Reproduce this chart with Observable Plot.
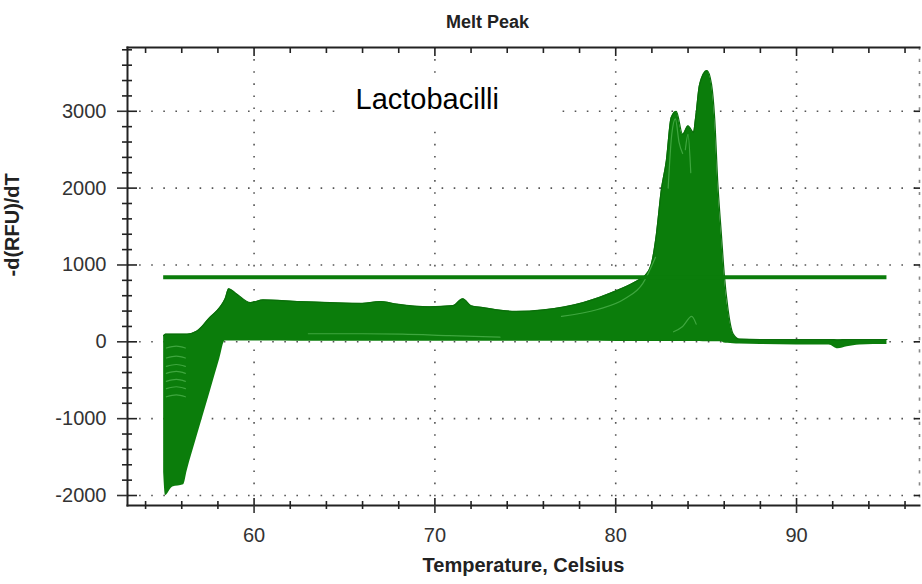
<!DOCTYPE html>
<html><head><meta charset="utf-8">
<script src="https://cdn.jsdelivr.net/npm/d3@7"></script>
<script src="https://cdn.jsdelivr.net/npm/@observablehq/plot@0.6"></script>
<style>body{margin:0;background:#fff} svg{display:block}</style>
</head><body><div id="chart"></div>
<script>
// ---- text ----
const title = "Melt Peak";
const xLabel = "Temperature, Celsius";
const yLabel = "-d(RFU)/dT";
const note = "Lactobacilli";

// ---- ticks ----
const xMajor = [60, 70, 80, 90];
const xMinor = [54, 56, 58, 62, 64, 66, 68, 72, 74, 76, 78, 82, 84, 86, 88, 92, 94, 96];
const yMajor = [-2000, -1000, 0, 1000, 2000, 3000];
const yMinor = [-1800, -1600, -1400, -1200, -800, -600, -400, -200, 200, 400, 600, 800,
                1200, 1400, 1600, 1800, 2200, 2400, 2600, 2800, 3200, 3400, 3600, 3800];

// ---- envelope of the overlapping melt-peak curves ----
const envT = [55.0, 55.1, 55.5, 56.1, 56.3, 56.85, 57.55, 58.1, 58.4, 58.6, 59.0, 59.8, 60.5, 62.4,
              64.2, 66.0, 67.0, 67.9, 69.7, 71.0, 71.55, 72.0, 72.65, 74.5, 76.0, 78.2, 80.1, 81.2,
              81.6, 81.97, 82.25, 82.52, 82.8, 83.07, 83.35, 83.7, 84.0, 84.3, 84.42, 84.64, 85.05,
              85.3, 85.47, 85.65, 85.85, 86.0, 86.2, 86.5, 86.85, 88.0, 90.0, 91.8, 92.3, 92.8, 93.5, 95.0];
const envUpper = [80, 100, 100, 100, 100, 140, 315, 445, 560, 690, 630, 510, 545, 525,
                  510, 500, 525, 490, 455, 470, 560, 470, 445, 395, 415, 510, 670, 795,
                  855, 1010, 1400, 1970, 2355, 2920, 3000, 2700, 2810, 2725, 2920, 3350, 3530,
                  3350, 2920, 2050, 1380, 890, 445, 100, 35, 30, 30, 30, 25, 30, 30, 30];
const envLower = [-1700, -2000, -1890, -1860, -1680, -1230, -670, -225, 10, 10, 10, 10, 10, 8,
                  8, 8, 8, 8, 8, 8, 8, 8, 8, 8, 8, 6, 5, 5,
                  5, 5, 5, 5, 5, 5, 5, 5, 5, 5, 5, 5, 0,
                  0, 0, 0, 0, -15, -20, -25, -30, -35, -40, -40, -90, -65, -40, -35];

// ---- light traces visible inside the mass of curves ----
const leftStreakT = [55.15, 55.7, 56.2];
const leftStreakV = [-80, -210, -320, -410, -515, -610, -715];
const midStreakT = [63.0, 66.0, 68.2, 70.8, 73.6];
const midStreakV = [105, 105, 100, 80, 60];
const flankStreakT = [77.0, 79.0, 80.5, 81.5, 82.2];
const flankStreakV = [330, 420, 560, 760, 1100];
const peak1StreakT = [82.9, 83.1, 83.3, 83.5, 83.7];
const peak1StreakV = [2000, 2700, 2900, 2600, 2450];
const peak2StreakT = [83.85, 84.0, 84.15];
const peak2StreakV = [2500, 2700, 2200];
const baseStreakT = [83.2, 83.7, 84.2, 84.45];
const baseStreakV = [130, 200, 330, 230];

// ---- threshold line ----
const threshold = 840;
const thresholdRange = [55, 95];

// build tables
const env = envT.map((t, i) => ({t, lo: envLower[i], hi: envUpper[i]}));
const pts = (T, V, id) => T.map((t, i) => ({t, v: V[i], id}));
const streaks = [
  ...leftStreakV.map((v, k) => leftStreakT.map((t, j) => ({t, v: v + (j === 1 ? 25 : 0), id: "L" + k}))).flat(),
  ...pts(midStreakT, midStreakV, "M"),
  ...pts(flankStreakT, flankStreakV, "F"),
  ...pts(peak1StreakT, peak1StreakV, "P1"),
  ...pts(peak2StreakT, peak2StreakV, "P2"),
  ...pts(baseStreakT, baseStreakV, "B")
];

const green = "#0b7d0b";
const ink = "#222";
const fmt = d => String(d);
const none = () => "";
const font = "Arial, 'Liberation Sans', sans-serif";

const plot = Plot.plot({
  width: 922, height: 584,
  marginLeft: 127, marginRight: 3, marginTop: 47, marginBottom: 79,
  style: {fontFamily: font, background: "#fff", overflow: "visible"},
  x: {domain: [53, 96.8]},
  y: {domain: [-2130, 3830]},
  marks: [
    Plot.gridX({ticks: xMajor, stroke: "#555", strokeOpacity: 1, strokeWidth: 1.6, strokeDasharray: "1.6,10.5"}),
    Plot.gridY({ticks: yMajor, stroke: "#555", strokeOpacity: 1, strokeWidth: 1.6, strokeDasharray: "1.6,10.5"}),
    Plot.frame({anchor: "right", stroke: "#888", strokeDasharray: "1.6,10.5", strokeWidth: 1.6}),
    Plot.text([note], {text: d => d, frameAnchor: "top-left", lineAnchor: "middle", dx: 228, dy: 52,
                       textAnchor: "start", fontSize: 29, fill: "#000"}),
    Plot.areaY(env, {x: "t", y1: "lo", y2: "hi", fill: green, curve: "monotone-x"}),
    Plot.line(env, {x: "t", y: "hi", stroke: "#0a6e0a", strokeWidth: 1.2, curve: "monotone-x"}),
    Plot.line(streaks, {x: "t", y: "v", z: "id", stroke: "#62c262", strokeWidth: 1.2, strokeOpacity: 0.6,
                        curve: "monotone-x"}),
    Plot.ruleY([threshold], {x1: thresholdRange[0], x2: thresholdRange[1], stroke: green, strokeWidth: 4}),
    Plot.frame({anchor: "left", stroke: ink, strokeWidth: 2}),
    Plot.frame({anchor: "bottom", stroke: ink, strokeWidth: 2}),
    Plot.frame({anchor: "top", stroke: ink, strokeWidth: 2}),
    // bottom axis (ticks cross the axis line)
    Plot.axisX({ticks: xMajor, tickSize: 8, tickPadding: 14, tickFormat: fmt, fontSize: 20,
                color: "#333", strokeWidth: 1.6, label: null}),
    Plot.axisX({ticks: xMajor, tickSize: 7, dy: -7, tickFormat: none, color: ink, strokeWidth: 1.6, label: null}),
    Plot.axisX({ticks: xMinor, tickSize: 4, tickFormat: none, color: ink, strokeWidth: 1.6, label: null}),
    Plot.axisX({ticks: xMinor, tickSize: 4, dy: -4, tickFormat: none, color: ink, strokeWidth: 1.6, label: null}),
    // top frame ticks
    Plot.axisX({anchor: "top", ticks: xMinor, tickSize: 5, dy: 5, tickFormat: none, color: ink, strokeWidth: 1.6, label: null}),
    Plot.axisX({anchor: "top", ticks: xMajor, tickSize: 8, dy: 8, tickFormat: none, color: ink, strokeWidth: 1.6, label: null}),
    // left axis
    Plot.axisY({ticks: yMajor, tickSize: 10, tickPadding: 11, tickFormat: fmt, fontSize: 20,
                color: "#333", strokeWidth: 1.6, label: null}),
    Plot.axisY({ticks: yMajor, tickSize: 10, dx: 10, tickFormat: none, color: ink, strokeWidth: 1.6, label: null}),
    Plot.axisY({ticks: yMinor, tickSize: 5, tickFormat: none, color: ink, strokeWidth: 1.6, label: null}),
    Plot.axisY({ticks: yMinor, tickSize: 5, dx: 5, tickFormat: none, color: ink, strokeWidth: 1.6, label: null}),
    // right frame ticks
    Plot.axisY({anchor: "right", ticks: yMajor, tickSize: 6, dx: -6, tickFormat: none, color: ink, strokeWidth: 1.6, label: null}),
    // titles
    Plot.text([title], {text: d => d, frameAnchor: "top", lineAnchor: "middle", dx: -36, dy: -25,
                        fontWeight: "bold", fontSize: 18, fill: ink}),
    Plot.text([xLabel], {text: d => d, frameAnchor: "bottom", lineAnchor: "middle", dy: 60,
                         fontWeight: "bold", fontSize: 20, fill: ink}),
    Plot.text([yLabel], {text: d => d, frameAnchor: "left", lineAnchor: "middle", rotate: -90, dx: -115,
                         fontWeight: "bold", fontSize: 20, fill: ink})
  ]
});
document.getElementById("chart").append(plot);

// white backing box behind the "Lactobacilli" annotation (hides gridlines)
const svg = plot.tagName.toLowerCase() === "svg" ? plot : plot.querySelector("svg");
const t = [...svg.querySelectorAll("text")].find(n => n.textContent === note);
if (t) {
  const r = t.getBoundingClientRect(), s = svg.getBoundingClientRect();
  const rect = document.createElementNS("http://www.w3.org/2000/svg", "rect");
  rect.setAttribute("x", r.left - s.left - 20);
  rect.setAttribute("y", r.top - s.top - 8);
  rect.setAttribute("width", r.width + 79);
  rect.setAttribute("height", r.height + 16);
  rect.setAttribute("fill", "#fff");
  let node = t;
  while (node.parentNode !== svg) node = node.parentNode;
  svg.insertBefore(rect, node);
}
</script>
</body></html>
